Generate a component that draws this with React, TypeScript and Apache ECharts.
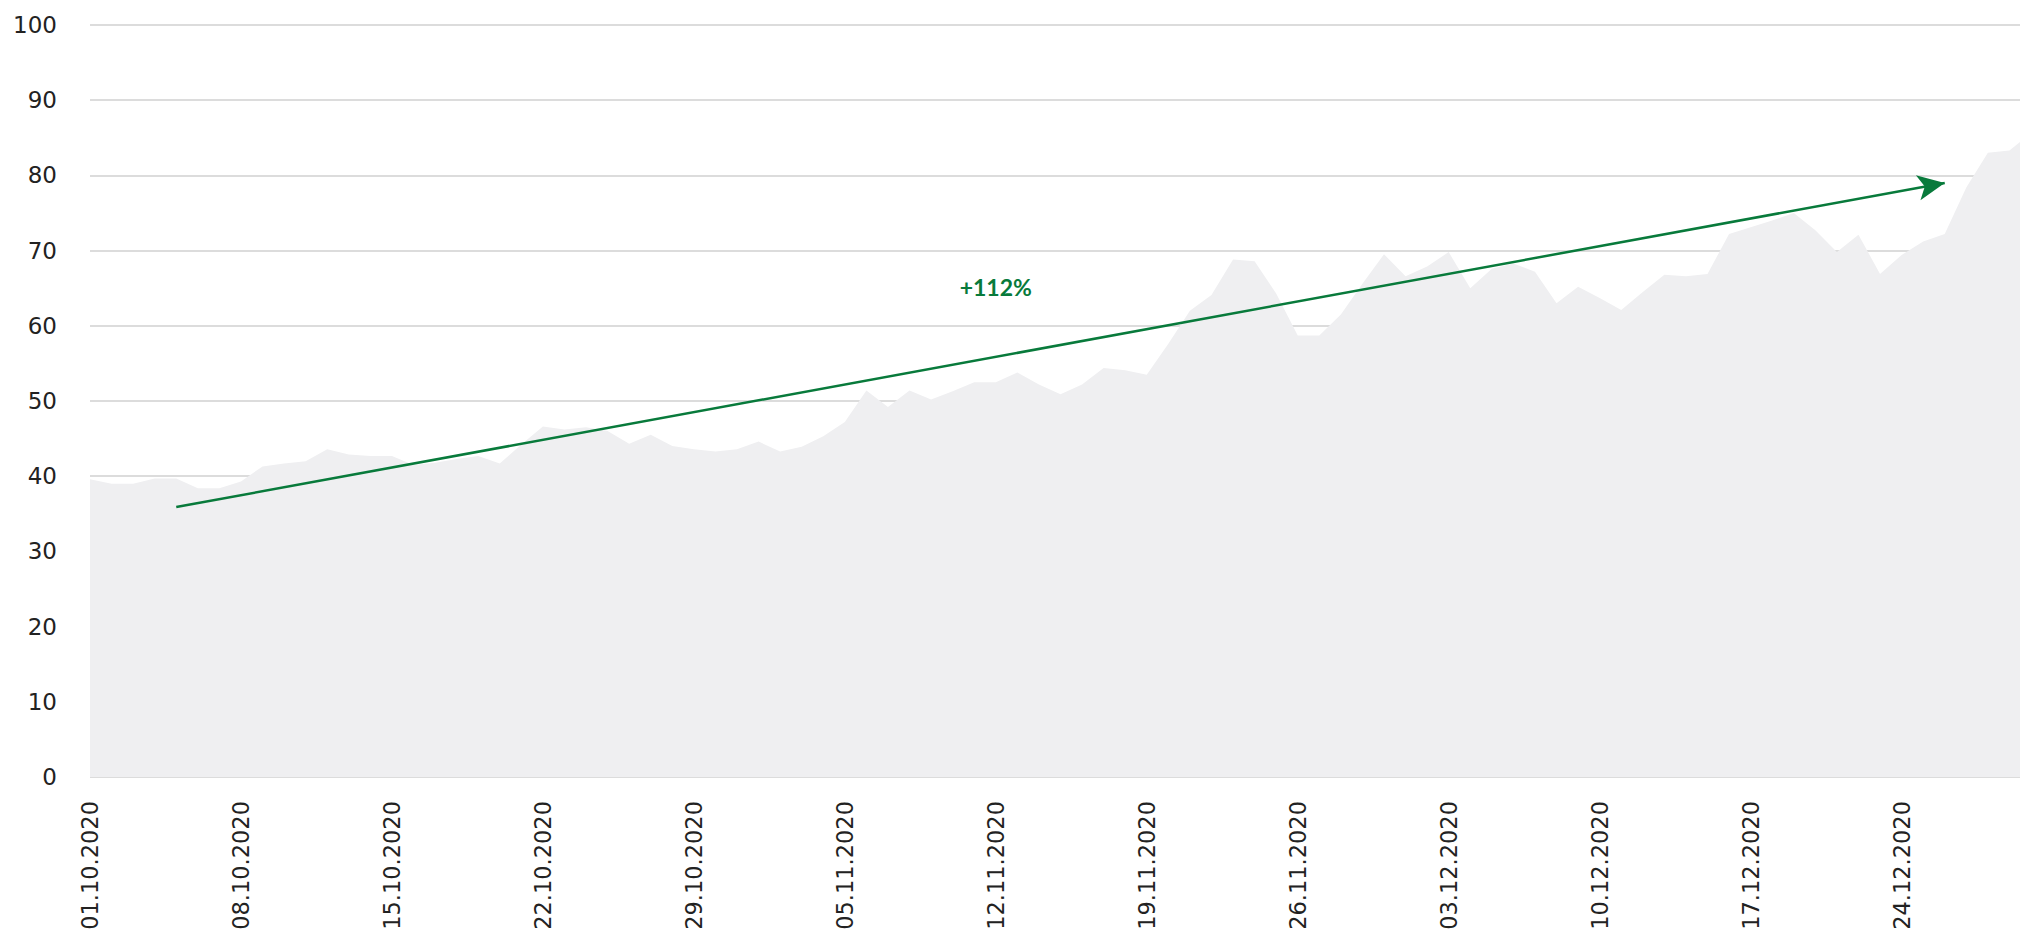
import React, { useEffect, useRef } from "react";
import * as echarts from "echarts";

const dates = [
  "01.10.2020", "02.10.2020", "03.10.2020", "04.10.2020", "05.10.2020", "06.10.2020", "07.10.2020",
  "08.10.2020", "09.10.2020", "10.10.2020", "11.10.2020", "12.10.2020", "13.10.2020", "14.10.2020",
  "15.10.2020", "16.10.2020", "17.10.2020", "18.10.2020", "19.10.2020", "20.10.2020", "21.10.2020",
  "22.10.2020", "23.10.2020", "24.10.2020", "25.10.2020", "26.10.2020", "27.10.2020", "28.10.2020",
  "29.10.2020", "30.10.2020", "31.10.2020",
  "01.11.2020", "02.11.2020", "03.11.2020", "04.11.2020", "05.11.2020", "06.11.2020", "07.11.2020",
  "08.11.2020", "09.11.2020", "10.11.2020", "11.11.2020", "12.11.2020", "13.11.2020", "14.11.2020",
  "15.11.2020", "16.11.2020", "17.11.2020", "18.11.2020", "19.11.2020", "20.11.2020", "21.11.2020",
  "22.11.2020", "23.11.2020", "24.11.2020", "25.11.2020", "26.11.2020", "27.11.2020", "28.11.2020",
  "29.11.2020", "30.11.2020",
  "01.12.2020", "02.12.2020", "03.12.2020", "04.12.2020", "05.12.2020", "06.12.2020", "07.12.2020",
  "08.12.2020", "09.12.2020", "10.12.2020", "11.12.2020", "12.12.2020", "13.12.2020", "14.12.2020",
  "15.12.2020", "16.12.2020", "17.12.2020", "18.12.2020", "19.12.2020", "20.12.2020", "21.12.2020",
  "22.12.2020", "23.12.2020", "24.12.2020", "25.12.2020", "26.12.2020", "27.12.2020", "28.12.2020",
  "29.12.2020", "30.12.2020",
];

const octValues = [
  39.6, 39.0, 39.0, 39.7, 39.7, 38.4, 38.4, 39.3, 41.3, 41.7, 42.0, 43.6, 42.9, 42.7, 42.7, 41.5,
  41.8, 42.3, 42.7, 41.7, 44.2, 46.6, 46.2, 46.5, 46.0, 44.3, 45.5, 44.0, 43.6, 43.3, 43.6,
];
const novValues = [
  44.6, 43.3, 43.9, 45.3, 47.2, 51.4, 49.2, 51.4, 50.2, 51.3, 52.5, 52.5, 53.8, 52.2, 50.9, 52.2,
  54.4, 54.1, 53.5, 57.6, 62.0, 64.1, 68.8, 68.6, 64.3, 58.7, 58.7, 61.5, 65.6, 69.5,
];
const decValues = [
  66.6, 67.9, 69.8, 65.0, 67.6, 68.3, 67.2, 63.0, 65.2, 63.7, 62.1, 64.5, 66.8, 66.6, 66.9, 72.2,
  73.1, 74.0, 75.0, 72.7, 69.8, 72.1, 66.9, 69.4, 71.2, 72.2, 78.4, 83.0, 83.3, 85.6,
];
const values = [...octValues, ...novValues, ...decValues];

const yMin = 0;
const yMax = 100;
const yStep = 10;

const trendStart = { date: "05.10.2020", value: 35.9 };
const trendEnd = { date: "26.12.2020", value: 79.0 };
const trendLabel = { date: "12.11.2020", value: 65.1, text: "+112%" };

const GREEN = "#087a3b";

export default function App() {
  const ref = useRef<HTMLDivElement>(null);

  useEffect(() => {
    if (!ref.current) return;
    const chart = echarts.init(ref.current, undefined, { renderer: "svg" });
    chart.setOption({
      animation: false,
      backgroundColor: "#ffffff",
      grid: {
        left: 90,
        right: 9,
        top: 25,
        bottom: 159,
        containLabel: false,
        outerBoundsMode: "none",
      },
      xAxis: {
        type: "category",
        data: dates,
        boundaryGap: false,
        axisLine: { show: false },
        axisTick: { show: false },
        splitLine: { show: false },
        axisLabel: {
          rotate: 90,
          interval: 6,
          margin: 24,
          fontSize: 22.5,
          fontFamily: "DejaVu Sans",
          color: "#222222",
        },
      },
      yAxis: {
        type: "value",
        min: yMin,
        max: yMax,
        interval: yStep,
        axisLine: { show: false },
        axisTick: { show: false },
        splitLine: { lineStyle: { color: "#dcdcdc", width: 2 } },
        axisLabel: {
          margin: 33,
          fontSize: 23,
          fontFamily: "DejaVu Sans",
          color: "#222222",
        },
      },
      series: [
        {
          type: "line",
          data: values,
          symbol: "none",
          silent: true,
          lineStyle: { width: 0 },
          areaStyle: { color: "#efeff1", opacity: 1 },
          markLine: {
            silent: true,
            symbol: ["none", "arrow"],
            symbolSize: [19, 27],
            lineStyle: { color: GREEN, width: 2.5, type: "solid" },
            label: { show: false },
            emphasis: { disabled: true },
            data: [
              [
                { coord: [trendStart.date, trendStart.value] },
                { coord: [trendEnd.date, trendEnd.value] },
              ],
            ],
          },
          markPoint: {
            silent: true,
            data: [
              {
                coord: [trendLabel.date, trendLabel.value],
                symbol: "circle",
                symbolSize: 2,
                itemStyle: { color: "rgba(255,255,255,0)" },
                label: {
                  show: true,
                  position: "inside",
                  formatter: trendLabel.text,
                  color: GREEN,
                  fontSize: 23,
                  fontWeight: "bold",
                  fontFamily: "Lato",
                },
              },
            ],
          },
        },
      ],
    });
    return () => chart.dispose();
  }, []);

  return (
    <div
      style={{
        position: "fixed",
        left: 0,
        top: 0,
        width: 2020,
        height: 936,
        overflow: "hidden",
        background: "#ffffff",
      }}
    >
      <div ref={ref} style={{ width: 2040, height: 936 }} />
    </div>
  );
}
